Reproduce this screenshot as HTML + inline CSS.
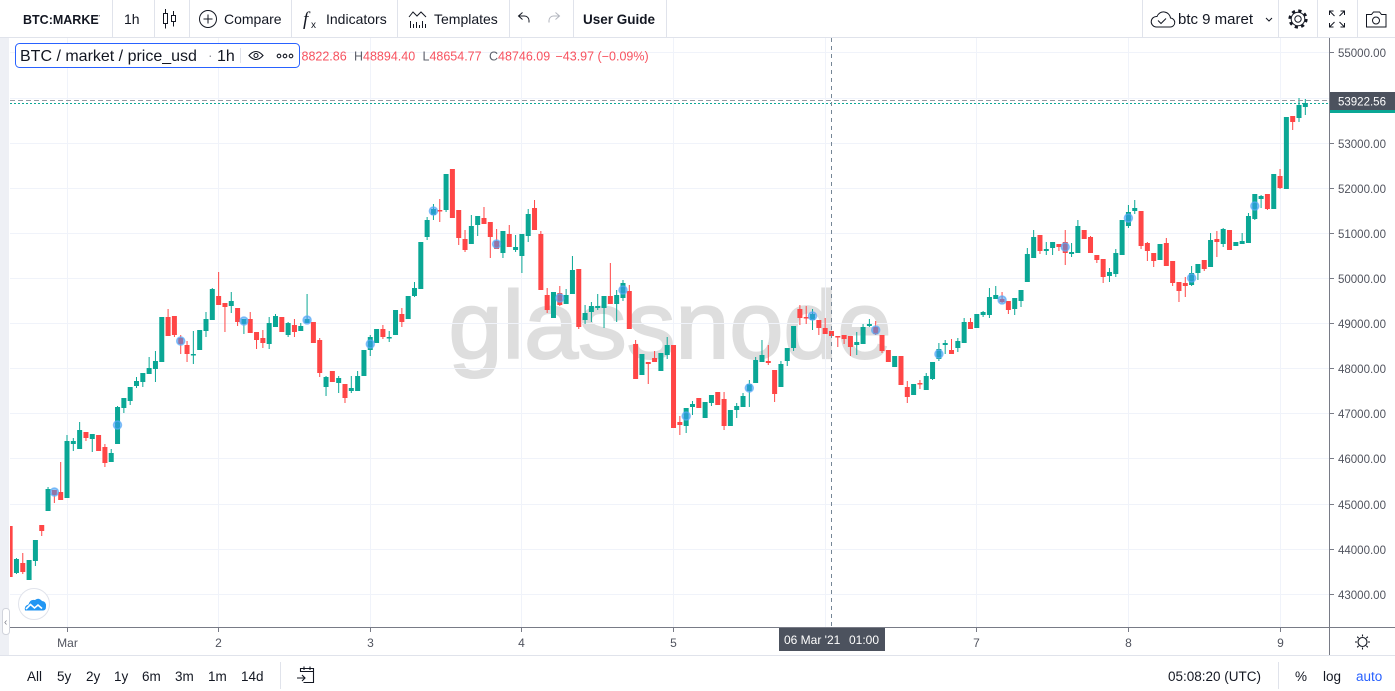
<!DOCTYPE html>
<html><head><meta charset="utf-8"><style>
html,body{margin:0;padding:0;background:#fff;width:1395px;height:691px;overflow:hidden}
svg{display:block}
text{font-family:"Liberation Sans",sans-serif}
</style></head><body>
<svg width="1395" height="691" viewBox="0 0 1395 691" xmlns="http://www.w3.org/2000/svg">
<defs>
<clipPath id="cc"><rect x="10" y="38" width="1319.5" height="589.5"/></clipPath>
<clipPath id="tb"><rect x="0" y="0" width="99.5" height="37"/></clipPath>
</defs>
<rect width="1395" height="691" fill="#fff"/>

<!-- top toolbar -->
<g stroke="#e0e3eb" stroke-width="1">
<line x1="0" y1="37.5" x2="1395" y2="37.5"/>
<line x1="112.5" y1="0" x2="112.5" y2="37"/><line x1="154.5" y1="0" x2="154.5" y2="37"/>
<line x1="189.5" y1="0" x2="189.5" y2="37"/><line x1="291.5" y1="0" x2="291.5" y2="37"/>
<line x1="397.5" y1="0" x2="397.5" y2="37"/><line x1="509.5" y1="0" x2="509.5" y2="37"/>
<line x1="573.5" y1="0" x2="573.5" y2="37"/><line x1="666.5" y1="0" x2="666.5" y2="37"/>
<line x1="1142.5" y1="0" x2="1142.5" y2="37"/><line x1="1278.5" y1="0" x2="1278.5" y2="37"/>
<line x1="1317.5" y1="0" x2="1317.5" y2="37"/><line x1="1357.5" y1="0" x2="1357.5" y2="37"/>
</g>
<g fill="#131722">
<text x="23" y="24" font-size="12.5" font-weight="bold" clip-path="url(#tb)">BTC:MARKET</text>
<text x="124" y="24" font-size="14">1h</text>
<text x="224" y="24" font-size="14">Compare</text>
<text x="326" y="24" font-size="14">Indicators</text>
<text x="434" y="24" font-size="14">Templates</text>
<text x="583" y="24" font-size="13.5" font-weight="bold">User Guide</text>
<text x="1178" y="24" font-size="15">btc 9 maret</text>
<text x="303" y="25" font-size="19" font-style="italic" style="font-family:'Liberation Serif',serif">f</text>
<text x="311" y="28" font-size="10">x</text>
</g>
<g fill="none" stroke="#131722" stroke-width="1">
<path d="M165.5 9v4.5M165.5 23.5v5M173.5 11v4.5M173.5 21.5v5"/>
<rect x="163.5" y="13.5" width="4" height="10"/><rect x="171.5" y="15.5" width="4" height="6"/>
<circle cx="208" cy="19" r="8.5"/><path d="M208 14.5v9M203.5 19h9"/>
<path d="M409 17l4-5 4 4 4-4 5 5M410.5 21v7M413.5 24v4M416.5 22v6M419.5 25v3M422.5 21v7M425.5 24v4"/>
<path d="M522.5 12.5l-4 3.5 4 3.5M518.5 16h6a4.5 4.5 0 0 1 4.5 4.5v2"/>
<path d="M555.5 12.5l4 3.5-4 3.5M559.5 16h-6a4.5 4.5 0 0 0-4.5 4.5v2" stroke="#b2b5be"/>
<path d="M1156 27h14a4.5 4.5 0 0 0 .5-9a7 7 0 0 0-13.5-1.5a5.2 5.2 0 0 0-1 10.5z"/>
<path d="M1158 20.5l3 3 5-5"/>
<path d="M1266 18l3 3 3-3"/>
<circle cx="1298" cy="19" r="3.2"/>
<circle cx="1298" cy="19" r="6.8"/>
<circle cx="1298" cy="19" r="8.3" stroke-width="2.6" stroke-dasharray="3.2 3.32"/>
<path d="M1329.5 15v-4h4M1344.5 15v-4h-4M1329.5 23v4h4M1344.5 23v4h-4M1330 11.5l4.5 4.5M1344 11.5l-4.5 4.5M1330 26.5l4.5-4.5M1344 26.5l-4.5-4.5"/>
<path d="M1366.5 14.5h5l2-2.5h6l2 2.5h4.5v12.5h-19.5z"/><circle cx="1376" cy="20.5" r="3.5"/>
</g>

<!-- chart content -->
<g clip-path="url(#cc)">
<text x="448.5" y="358" font-size="96" fill="#dedede" stroke="#dedede" stroke-width="2" textLength="443" lengthAdjust="spacingAndGlyphs">glassnode</text>
<g stroke="#f0f3fa" stroke-width="1">
<line x1="10" y1="52.5" x2="1329" y2="52.5"/><line x1="10" y1="98.5" x2="1329" y2="98.5"/>
<line x1="10" y1="143.5" x2="1329" y2="143.5"/><line x1="10" y1="188.5" x2="1329" y2="188.5"/>
<line x1="10" y1="233.5" x2="1329" y2="233.5"/><line x1="10" y1="278.5" x2="1329" y2="278.5"/>
<line x1="10" y1="323.5" x2="1329" y2="323.5"/><line x1="10" y1="368.5" x2="1329" y2="368.5"/>
<line x1="10" y1="413.5" x2="1329" y2="413.5"/><line x1="10" y1="458.5" x2="1329" y2="458.5"/>
<line x1="10" y1="504.5" x2="1329" y2="504.5"/><line x1="10" y1="549.5" x2="1329" y2="549.5"/>
<line x1="10" y1="594.5" x2="1329" y2="594.5"/>
<line x1="67.5" y1="38" x2="67.5" y2="627"/><line x1="218.5" y1="38" x2="218.5" y2="627"/>
<line x1="370.5" y1="38" x2="370.5" y2="627"/><line x1="521.5" y1="38" x2="521.5" y2="627"/>
<line x1="673.5" y1="38" x2="673.5" y2="627"/><line x1="825.5" y1="38" x2="825.5" y2="627"/>
<line x1="976.5" y1="38" x2="976.5" y2="627"/><line x1="1128.5" y1="38" x2="1128.5" y2="627"/>
<line x1="1280.5" y1="38" x2="1280.5" y2="627"/>
</g>

<g transform="translate(67 0) scale(6.318 1)" fill="none">
<path stroke="#0aa795" stroke-width="1" vector-effect="non-scaling-stroke" d="M-8 558V574M-6 560V580M-5 540V566M-3 487V511M0 435V498M1 438V451M2 422V449M4 434V452M7 449V462M8 406V444M9 398V413M10 387V405M11 377V388M12 373V387M13 357V374M14 351V382M15 317V362M20 331V364M21 330V350M22 312V337M23 288V320M26 292V313M28 319V334M32 317V349M33 314V327M35 322V337M37 323V331M38 294V323M41 376V396M43 376V393M45 376V393M46 371V391M47 350V376M48 335V356M49 329V343M51 331V342M52 310V335M54 296V319M55 282V297M56 242V289M57 217V240M58 204V220M60 174V212M64 215V244M65 216V236M69 231V258M71 235V252M72 234V273M73 209V242M77 292V318M79 289V304M80 256V294M82 305V324M83 302V322M84 294V310M85 296V328M87 290V322M88 280V301M91 354V375M94 353V371M95 337V359M98 408V433M99 401V415M101 402V418M102 395V406M105 410V426M106 403V418M107 393V407M108 380V407M109 357V383M110 340V362M113 361V387M114 348V366M115 326V351M118 309V330M125 332V355M126 324V344M127 319V327M131 356V367M134 384V395M136 373V390M137 362V380M138 343V361M139 340V354M141 338V352M142 318V343M144 314V328M145 311V317M146 288V318M147 286V299M150 298V315M151 290V307M152 248V282M153 230V258M155 242V255M156 242V255M159 243V257M160 220V253M165 268V282M166 249V277M167 220V255M168 205V228M169 200V214M173 244V260M178 266V286M179 264V280M181 233V267M183 228V247M185 242V246M186 233V244M187 213V243M188 194V220M189 195V208M191 174V209M193 117V189M195 98V122M196 99V115"/>
<path stroke="#ff4646" stroke-width="1" vector-effect="non-scaling-stroke" d="M-9 526V577M-7 553V574M-4 525V536M-2 490V503M-1 462V500M3 432V441M5 435V451M6 444V467M16 309V336M17 316V337M18 335V354M19 341V362M24 272V305M25 303V332M27 308V326M29 312V333M30 332V349M31 330V348M34 317V332M36 319V337M39 322V343M40 338V377M42 371V382M44 384V403M50 325V339M53 308V327M59 199V222M61 169V218M62 210V245M63 230V252M66 207V224M67 222V258M68 229V249M70 225V247M74 200V230M75 231V290M76 288V313M78 286V306M81 269V329M86 263V304M89 285V329M90 340V379M92 362V384M93 351V362M96 345V428M97 416V435M100 398V408M103 392V405M104 392V430M111 345V365M112 370V402M116 305V325M117 306V324M119 320V335M120 318V334M121 331V336M122 336V347M123 335V344M124 336V356M128 321V335M129 335V353M130 350V362M132 356V385M133 381V403M135 380V389M140 339V354M143 318V329M148 292V303M149 301V314M154 235V254M157 244V251M158 230V265M161 230V239M162 236V253M163 255V263M164 259V283M170 211V249M171 242V261M172 253V267M174 238V266M175 261V286M176 282V302M177 277V297M180 260V271M182 231V257M184 230V250M190 194V210M192 169V189M194 116V130"/>
<path stroke="#0aa795" stroke-width="5" vector-effect="non-scaling-stroke" d="M-8 559V573M-6 560V580M-5 540V561M-3 489V511M0 441V498M1 441V444M2 430V449M4 434V439M7 453V462M8 407V444M9 398V408M10 387V401M11 381V386M12 373V382M13 368V374M14 361V369M15 317V362M20 354V355.5M21 330V350M22 319V331M23 289V320M26 301V306M28 319V324M32 323V344M33 316V327M35 323V335M37 326V331M38 319V323M41 377V387M43 378V383M45 388V391M46 376V391M47 350V376M48 337V350M49 329V343M51 337V338.5M52 310V335M54 296V319M55 288V296M56 242V289M57 220V237M58 209V215M60 174V210M64 226V244M65 216V225M69 231V253M71 247V250M72 234V256M73 214V236M77 292V318M79 295V304M80 270V294M82 313V320M83 306V312M84 306V308M85 296V308M87 295V304M88 283V298M91 354V375M94 353V371M95 345V355M98 408V426M99 404V407M101 402V418M102 395V403M105 410V426M106 406V410M107 396V407M108 384V391M109 360V383M110 355V362M113 364V387M114 348V361M115 326V348M118 314V320M125 342V345M126 327V344M127 324V326M131 356V367M134 384V395M136 376V390M137 362V379M138 349V359M139 343V345M141 341V348M142 322V343M144 314V328M145 312V315M146 297V315M147 295V299M150 298V309M151 290V301M152 254V282M153 237V258M155 249V251M156 242V248M159 252V254M160 226V253M165 272V276M166 253V274M167 220V255M168 212V226M169 208V211M173 244V260M178 273V285M179 264V273M181 240V267M183 229V244M185 242V246M186 241V244M187 216V243M188 194V219M189 196V199M191 174V209M193 117V189M195 105V118M196 103V107"/>
<path stroke="#ff4646" stroke-width="5" vector-effect="non-scaling-stroke" d="M-9 526V577M-7 563V572M-4 525V531M-2 490V495M-1 492V500M3 432V438M5 435V451M6 447V463M16 317V336M17 316V335M18 338V344M19 345V354M24 296V305M25 303V307M27 308V322M29 319V333M30 332V340M31 338V343M34 317V332M36 325V332M39 322V343M40 340V373M42 371V382M44 384V398M50 329V337M53 314V322M59 210V211.5M61 169V218M62 210V238M63 239V250M66 218V224M67 222V237M68 241V249M70 234V247M74 208V230M75 234V290M76 295V310M78 293V305M81 269V327M86 296V304M89 291V329M90 344V379M92 362V364M93 358V362M96 345V428M97 422V425M100 398V408M103 392V405M104 399V426M111 361V363M112 370V394M116 309V318M117 317V318.5M119 320V328M120 328V334M121 331V336M122 336V337.5M123 335V339M124 336V347M128 327V334M129 335V351M130 350V362M132 356V385M133 387V397M135 383V384.5M140 350V354M143 322V329M148 299V302M149 301V310M154 235V251M157 244V247M158 242V253M161 230V239M162 237V253M163 255V260M164 259V277M170 211V246M171 243V251M172 253V261M174 243V266M175 261V283M176 282V291M177 283V286M180 260V269M182 239V242M184 230V250M190 194V209M192 176V188M194 116V122"/>
</g>

<g fill="#3d9bf5" fill-opacity="0.55" stroke="#5aaaf7" stroke-opacity="0.7" stroke-width="1.5">
<circle cx="54.4" cy="492" r="4"/><circle cx="117.5" cy="425" r="4"/><circle cx="180.7" cy="341" r="4"/>
<circle cx="243.9" cy="321" r="4"/><circle cx="307.1" cy="320" r="4"/><circle cx="370.3" cy="344" r="4"/>
<circle cx="433.4" cy="211" r="4"/><circle cx="496.6" cy="244" r="4"/><circle cx="559.8" cy="298" r="4"/>
<circle cx="623" cy="290" r="4"/><circle cx="686.2" cy="416" r="4"/><circle cx="749.3" cy="388" r="4"/>
<circle cx="812.5" cy="316" r="4"/><circle cx="875.7" cy="330" r="4"/><circle cx="938.9" cy="354" r="4"/>
<circle cx="1002.1" cy="300" r="4"/><circle cx="1065.2" cy="247" r="4"/><circle cx="1128.4" cy="218" r="4"/>
<circle cx="1191.6" cy="278" r="4"/><circle cx="1254.8" cy="206" r="4"/>
</g>

<line x1="10" y1="100.5" x2="1329" y2="100.5" stroke="#9598a1" stroke-dasharray="5 3"/>
<line x1="10" y1="103.5" x2="1329" y2="103.5" stroke="#0aa795" stroke-dasharray="2 2"/>
<line x1="831.5" y1="38" x2="831.5" y2="627" stroke="#758696" stroke-dasharray="4 4"/>
</g>

<!-- legend -->
<rect x="15.5" y="43.5" width="284" height="24" rx="4" fill="#fff" stroke="#2962ff"/>
<text x="20" y="61" font-size="16" fill="#131722">BTC / market / price_usd</text>
<text x="208" y="60" font-size="14" fill="#9598a1">·</text>
<text x="217" y="61" font-size="16" fill="#131722">1h</text>
<line x1="240.5" y1="48" x2="240.5" y2="63" stroke="#e0e3eb"/>
<g fill="none" stroke="#131722" stroke-width="1.1">
<path d="M249 55.5q7-8 14 0q-7 8-14 0z"/><circle cx="256" cy="55.5" r="2"/>
<circle cx="279" cy="56" r="1.8"/><circle cx="285" cy="56" r="1.8"/><circle cx="291" cy="56" r="1.8"/>
</g>
<g font-size="12.5" fill="#f7525f">
<text x="301.5" y="60.5">8822.86</text>
<text x="354" y="60.5"><tspan fill="#5d606b">H</tspan>48894.40</text>
<text x="422.5" y="60.5"><tspan fill="#5d606b">L</tspan>48654.77</text>
<text x="489" y="60.5"><tspan fill="#5d606b">C</tspan>48746.09</text>
<text x="555.5" y="60.5">−43.97 (−0.09%)</text>
</g>

<!-- left strip -->
<rect x="0" y="38" width="9" height="617" fill="#eef0f5"/>
<rect x="2.5" y="608.5" width="7" height="26" rx="3" fill="#fff" stroke="#d1d4dc"/>
<text x="4" y="625" font-size="10" fill="#787b86">‹</text>

<!-- logo -->
<circle cx="34" cy="604" r="15.5" fill="#fff" stroke="#e0e3eb"/>
<path d="M25 610.5q-1-5 3.5-6q1.5-5.5 6.5-4.5q3.5-3 7 1q4.5 .5 4 5.5q0 4-3 4z" fill="#2196f3"/>
<path d="M26 609l4.5-4.5 4 3.5 3.5-3 4 3.5" fill="none" stroke="#fff" stroke-width="1.6"/>

<!-- axes -->
<line x1="10" y1="627.5" x2="1395" y2="627.5" stroke="#787b86"/>
<line x1="1329.5" y1="38" x2="1329.5" y2="655" stroke="#787b86"/>
<g stroke="#787b86">
<line x1="67.5" y1="628" x2="67.5" y2="632"/><line x1="218.5" y1="628" x2="218.5" y2="632"/>
<line x1="370.5" y1="628" x2="370.5" y2="632"/><line x1="521.5" y1="628" x2="521.5" y2="632"/>
<line x1="673.5" y1="628" x2="673.5" y2="632"/><line x1="976.5" y1="628" x2="976.5" y2="632"/>
<line x1="1128.5" y1="628" x2="1128.5" y2="632"/><line x1="1280.5" y1="628" x2="1280.5" y2="632"/>
<line x1="1330" y1="52.5" x2="1334" y2="52.5"/><line x1="1330" y1="143.5" x2="1334" y2="143.5"/>
<line x1="1330" y1="188.5" x2="1334" y2="188.5"/><line x1="1330" y1="233.5" x2="1334" y2="233.5"/>
<line x1="1330" y1="278.5" x2="1334" y2="278.5"/><line x1="1330" y1="323.5" x2="1334" y2="323.5"/>
<line x1="1330" y1="368.5" x2="1334" y2="368.5"/><line x1="1330" y1="413.5" x2="1334" y2="413.5"/>
<line x1="1330" y1="458.5" x2="1334" y2="458.5"/><line x1="1330" y1="504.5" x2="1334" y2="504.5"/>
<line x1="1330" y1="549.5" x2="1334" y2="549.5"/><line x1="1330" y1="594.5" x2="1334" y2="594.5"/>
</g>
<g font-size="11.5" fill="#50535e">
<text x="1338" y="57">55000.00</text><text x="1338" y="148">53000.00</text>
<text x="1338" y="193">52000.00</text><text x="1338" y="238">51000.00</text>
<text x="1338" y="283">50000.00</text><text x="1338" y="328">49000.00</text>
<text x="1338" y="373">48000.00</text><text x="1338" y="418">47000.00</text>
<text x="1338" y="463">46000.00</text><text x="1338" y="509">45000.00</text>
<text x="1338" y="554">44000.00</text><text x="1338" y="599">43000.00</text>
</g>
<rect x="1330" y="110" width="65" height="3" fill="#0aa795"/>
<rect x="1330" y="92" width="65" height="18" fill="#4c525e"/>
<text x="1338" y="105.5" font-size="11.5" fill="#fff">53922.56</text>

<g font-size="12" fill="#50535e" text-anchor="middle">
<text x="67.5" y="647">Mar</text><text x="218.5" y="647">2</text><text x="370.5" y="647">3</text>
<text x="521.5" y="647">4</text><text x="673.5" y="647">5</text><text x="976.5" y="647">7</text>
<text x="1128.5" y="647">8</text><text x="1280.5" y="647">9</text>
</g>
<rect x="779" y="628" width="106" height="23" fill="#4c525e"/>
<text x="784" y="644" font-size="12" fill="#fff">06 Mar '21</text>
<text x="849" y="644" font-size="12" fill="#fff">01:00</text>

<g fill="none" stroke="#131722" stroke-width="1.1">
<circle cx="1362.5" cy="642" r="4.5"/>
<path d="M1362.5 634.5v2M1362.5 647.5v2M1355 642h2M1368 642h2M1357.2 636.7l1.4 1.4M1366.4 645.9l1.4 1.4M1357.2 647.3l1.4-1.4M1366.4 638.1l1.4-1.4"/>
</g>

<!-- bottom toolbar -->
<line x1="0" y1="655.5" x2="1395" y2="655.5" stroke="#e0e3eb"/>
<line x1="280.5" y1="662" x2="280.5" y2="689" stroke="#e0e3eb"/>
<line x1="1278.5" y1="662" x2="1278.5" y2="689" stroke="#e0e3eb"/>
<g font-size="13.5" fill="#131722">
<text x="27" y="681">All</text><text x="57" y="681">5y</text><text x="86" y="681">2y</text>
<text x="114" y="681">1y</text><text x="142" y="681">6m</text><text x="175" y="681">3m</text>
<text x="208" y="681">1m</text><text x="241" y="681">14d</text>
<text x="1168" y="681">05:08:20 (UTC)</text>
<text x="1295" y="681">%</text><text x="1323" y="681">log</text>
<text x="1356" y="681" fill="#2962ff">auto</text>
</g>
<g fill="none" stroke="#131722" stroke-width="1.1">
<path d="M300.5 672v-3.5h13v14h-10M300.5 671.5h13M304 666.5v3.5M310 666.5v3.5"/>
<path d="M297 678h8M302 675l3 3-3 3"/>
</g>
</svg>
</body></html>
